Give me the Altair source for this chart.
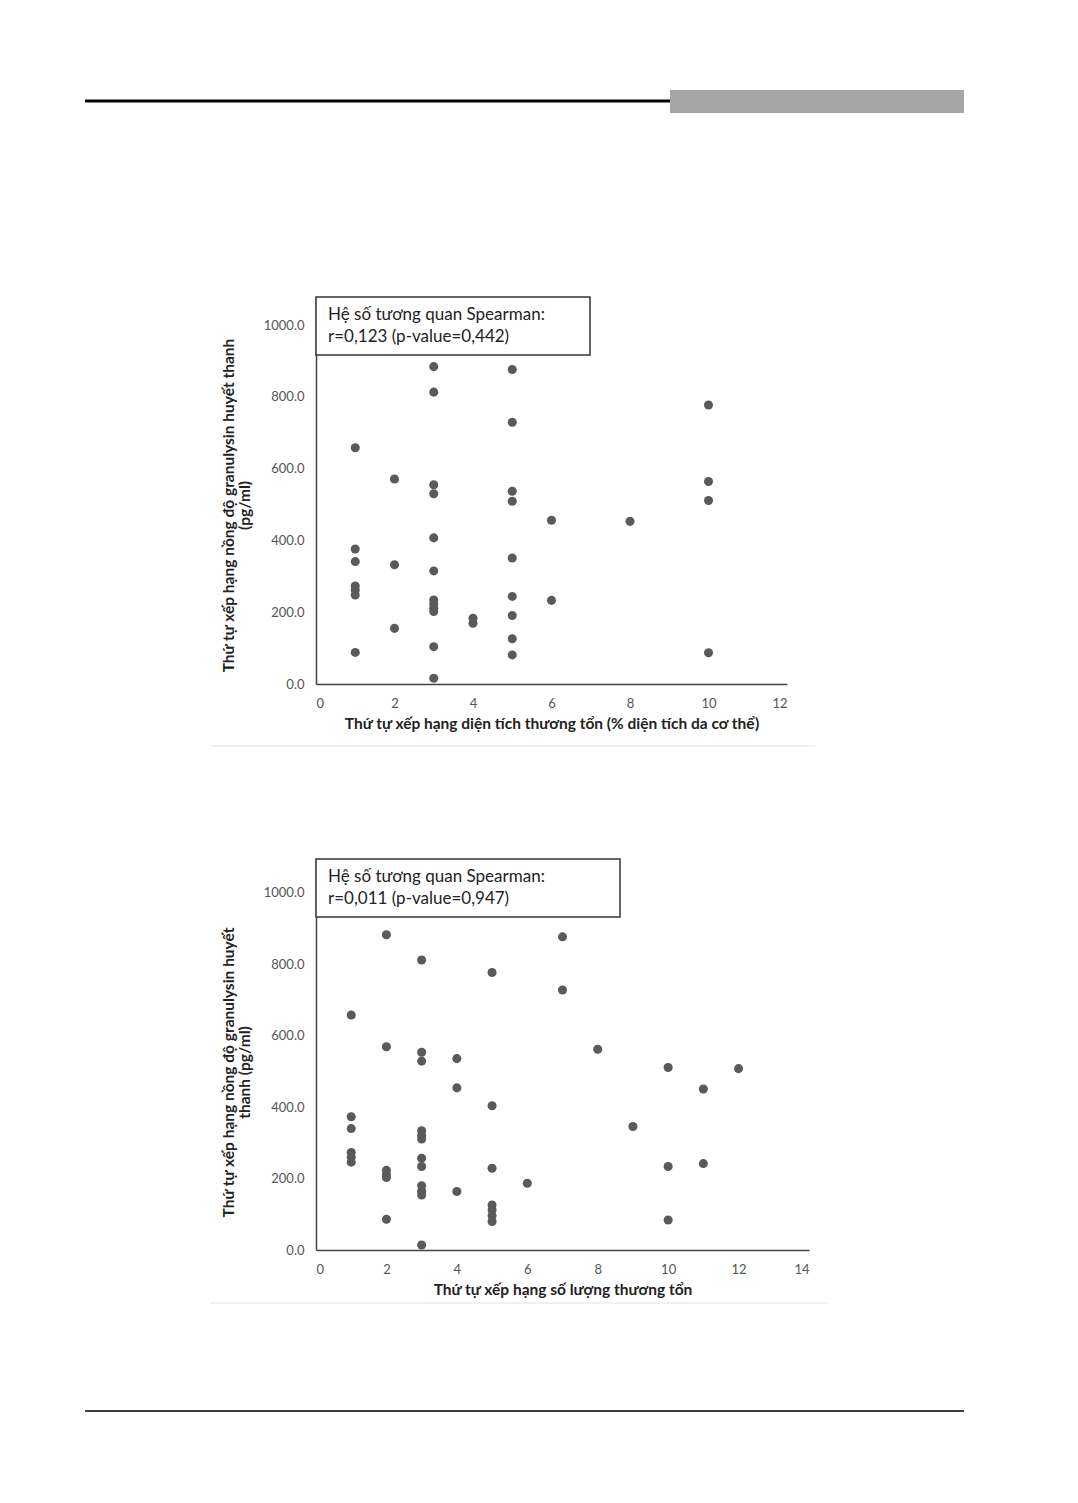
import altair as alt
import pandas as pd

# ---- data ----
top_x = [1]*7 + [2]*3 + [3]*12 + [4]*2 + [5]*9 + [6]*2 + [8] + [10]*4
top_y = [658, 376, 341, 273, 262, 248, 88,
         571, 332, 155,
         884, 813, 555, 530, 407, 315, 234, 223, 211, 202, 104, 16,
         183, 169,
         876, 729, 537, 509, 351, 244, 191, 126, 81,
         456, 233,
         453,
         777, 564, 511, 87]

bot_x = [1]*6 + [2]*6 + [3]*12 + [4]*3 + [5]*7 + [6] + [7]*2 + [8] + [9] + [10]*3 + [11]*2 + [12]
bot_y = [658, 373, 340, 273, 260, 246,
         883, 569, 223, 211, 203, 86,
         812, 554, 529, 334, 321, 311, 257, 234, 180, 164, 154, 14,
         536, 454, 164,
         777, 404, 229, 126, 112, 96, 80,
         187,
         877, 728,
         562,
         346,
         511, 234, 84,
         451, 242,
         508]

y_ticks = [0, 200, 400, 600, 800, 1000]
top_x_ticks = [0, 2, 4, 6, 8, 10, 12]
bot_x_ticks = [0, 2, 4, 6, 8, 10, 12, 14]

top_box = ["Hệ số tương quan Spearman:", "r=0,123 (p-value=0,442)"]
bot_box = ["Hệ số tương quan Spearman:", "r=0,011 (p-value=0,947)"]

top_xtitle = "Thứ tự xếp hạng diện tích thương tổn (% diện tích da cơ thể)"
top_ytitle = ["Thứ tự xếp hạng nồng độ granulysin huyết thanh", "(pg/ml)"]
bot_xtitle = "Thứ tự xếp hạng số lượng thương tổn"
bot_ytitle = ["Thứ tự xếp hạng nồng độ granulysin huyết", "thanh (pg/ml)"]

FONT = "Lato"
PT = "#5a5a5a"
one = pd.DataFrame({"a": [0]})


def scatter(xs, ys, xmax, ymax, xticks, xtitle, ytitle, w, h, box, boxw, ty):
    df = pd.DataFrame({"x": xs, "y": ys})
    pts = alt.Chart(df).mark_circle(size=82, color=PT, opacity=1).encode(
        x=alt.X("x:Q", scale=alt.Scale(domain=[0, xmax], nice=False, zero=True),
                axis=alt.Axis(values=xticks, title=xtitle, format="d",
                              labelPadding=13, titlePadding=6)),
        y=alt.Y("y:Q", scale=alt.Scale(domain=[0, ymax], nice=False),
                axis=alt.Axis(values=y_ticks, title=ytitle, format=".1f",
                              labelPadding=12, titlePadding=11, titleY=ty)),
    )
    rect = alt.Chart(one).mark_rect(fill="white", stroke="#333", strokeWidth=1.5).encode(
        x=alt.value(0), x2=alt.value(boxw), y=alt.value(0), y2=alt.value(58))
    t1 = alt.Chart(one).mark_text(text=box[0], align="left", baseline="middle",
                                  fontSize=17, font=FONT, color="#222").encode(
        x=alt.value(12), y=alt.value(18))
    t2 = alt.Chart(one).mark_text(text=box[1], align="left", baseline="middle",
                                  fontSize=17, font=FONT, color="#222").encode(
        x=alt.value(12), y=alt.value(40))
    return alt.layer(pts, rect, t1, t2).properties(width=w, height=h)


c1 = scatter(top_x, top_y, 12, 1078, top_x_ticks, top_xtitle, top_ytitle, 471, 387, top_box, 274, 208)
c2 = scatter(bot_x, bot_y, 14, 1095, bot_x_ticks, bot_xtitle, bot_ytitle, 493, 391, bot_box, 304, 213)

# page decorations (pixel offsets relative to each plot's origin)
hdr_line = alt.Chart(one).mark_rule(color="black", strokeWidth=3).encode(
    x=alt.value(-231), x2=alt.value(354), y=alt.value(-196))
hdr_rect = alt.Chart(one).mark_rect(color="#a6a6a6").encode(
    x=alt.value(354), x2=alt.value(648), y=alt.value(-207), y2=alt.value(-184))
top_frame = alt.Chart(one).mark_rule(color="#ededed", strokeWidth=1.5).encode(
    x=alt.value(-106), x2=alt.value(499), y=alt.value(449))

ftr_line = alt.Chart(one).mark_rule(color="black", strokeWidth=1.5).encode(
    x=alt.value(-231), x2=alt.value(648), y=alt.value(552))
bot_frame = alt.Chart(one).mark_rule(color="#ededed", strokeWidth=1.5).encode(
    x=alt.value(-106), x2=alt.value(512), y=alt.value(444))

top = alt.layer(hdr_line, hdr_rect, top_frame, c1)
bot = alt.layer(bot_frame, ftr_line, c2)

chart = alt.vconcat(top, bot, spacing=111).properties(
    padding={"left": 75, "top": 82, "right": 5, "bottom": 5},
    background="white",
).configure_view(stroke=None).configure_axis(
    grid=False, ticks=False, domainColor="#444", domainWidth=1.5,
    labelColor="#555", labelFont=FONT, labelFontSize=13,
    titleFont=FONT, titleFontSize=15.5, titleFontWeight="bold", titleColor="#222",
    titleLineHeight=16,
)

chart.save("out.html", embed_options={"renderer": "svg", "actions": False})
